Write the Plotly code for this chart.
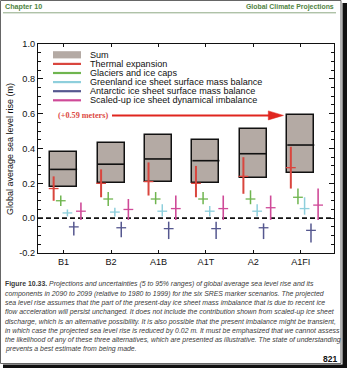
import plotly.graph_objects as go

# ---- data -------------------------------------------------------------
scenarios = ["B1", "B2", "A1B", "A1T", "A2", "A1FI"]

sum_low = [0.18, 0.20, 0.21, 0.20, 0.23, 0.26]
sum_mid = [0.28, 0.31, 0.34, 0.33, 0.37, 0.42]
sum_high = [0.38, 0.43, 0.48, 0.45, 0.51, 0.59]

thermal_low = [0.10, 0.12, 0.13, 0.12, 0.14, 0.17]
thermal_mid = [0.17, 0.20, 0.21, 0.20, 0.24, 0.29]
thermal_high = [0.24, 0.28, 0.32, 0.30, 0.35, 0.41]

glacier_low = [0.07, 0.07, 0.08, 0.08, 0.08, 0.08]
glacier_mid = [0.10, 0.11, 0.11, 0.11, 0.11, 0.12]
glacier_high = [0.13, 0.15, 0.15, 0.15, 0.16, 0.17]

greenland_low = [0.01, 0.01, 0.01, 0.01, 0.01, 0.02]
greenland_mid = [0.03, 0.035, 0.04, 0.04, 0.04, 0.055]
greenland_high = [0.05, 0.06, 0.08, 0.07, 0.08, 0.12]

antarctic_low = [-0.10, -0.11, -0.12, -0.12, -0.12, -0.14]
antarctic_mid = [-0.05, -0.055, -0.06, -0.06, -0.055, -0.07]
antarctic_high = [-0.02, -0.02, -0.02, -0.02, -0.03, -0.03]

dynamic_low = [-0.01, -0.01, -0.01, -0.01, -0.01, -0.01]
dynamic_mid = [0.04, 0.05, 0.055, 0.055, 0.06, 0.075]
dynamic_high = [0.09, 0.11, 0.13, 0.13, 0.13, 0.17]

y_tick_values = [-0.2, 0.0, 0.2, 0.4, 0.6, 0.8, 1.0]
y_tick_labels = ["-0.2", "0.0", "0.2", "0.4", "0.6", "0.8", "1.0"]

legend_labels = [
    "Sum",
    "Thermal expansion",
    "Glaciers and ice caps",
    "Greenland ice sheet surface mass balance",
    "Antarctic ice sheet surface mass balance",
    "Scaled-up ice sheet dynamical imbalance",
]

caption_lines = [
    "<b>Figure 10.33.</b> <i>Projections and uncertainties (5 to 95% ranges) of global average sea level rise and its</i>",
    "<i>components in 2090 to 2099 (relative to 1980 to 1999) for the six SRES marker scenarios. The projected</i>",
    "<i>sea level rise assumes that the part of the present-day ice sheet mass imbalance that is due to recent ice</i>",
    "<i>flow acceleration will persist unchanged. It does not include the contribution shown from scaled-up ice sheet</i>",
    "<i>discharge, which is an alternative possibility. It is also possible that the present imbalance might be transient,</i>",
    "<i>in which case the projected sea level rise is reduced by 0.02 m. It must be emphasized that we cannot assess</i>",
    "<i>the likelihood of any of these three alternatives, which are presented as illustrative. The state of understanding</i>",
    "<i>prevents a best estimate from being made.</i>",
]

# ---- styling ----------------------------------------------------------
W, H = 347, 368
PL, PR, PT, PB = 38, 334, 44, 253          # plot area in pixels
BOX_FILL = "#b4aaa4"
INK = "#111111"
SANS = "Liberation Sans, Arial, sans-serif"
SERIF = "Liberation Serif, Times New Roman, serif"

components = [
    ("Thermal expansion", thermal_low, thermal_mid, thermal_high, "#d9463e", -0.21, 2.0),
    ("Glaciers and ice caps", glacier_low, glacier_mid, glacier_high, "#6fb54f", -0.06, 1.5),
    ("Greenland", greenland_low, greenland_mid, greenland_high, "#8ecfdc", 0.08, 1.5),
    ("Antarctic", antarctic_low, antarctic_mid, antarctic_high, "#55578f", 0.215, 1.5),
    ("Dynamical", dynamic_low, dynamic_mid, dynamic_high, "#cf4a98", 0.365, 1.6),
]
legend_colors = [BOX_FILL] + [c[4] for c in components]


def px_x(px):
    return (px - PL) / (PR - PL)


def px_y(py):
    return (PB - py) / (PB - PT)


positions = list(range(1, len(scenarios) + 1))
BOX_W = 0.57

fig = go.Figure()

# sum ranges as boxes
fig.add_trace(go.Bar(
    x=positions,
    y=[h - l for l, h in zip(sum_low, sum_high)],
    base=sum_low,
    width=BOX_W,
    marker=dict(color=BOX_FILL, line=dict(color=INK, width=1.5)),
    hoverinfo="skip",
    showlegend=False,
))

# median line in each box
mx, my = [], []
for p, m in zip(positions, sum_mid):
    mx += [p - BOX_W / 2, p + BOX_W / 2, None]
    my += [m, m, None]
fig.add_trace(go.Scatter(x=mx, y=my, mode="lines",
                         line=dict(color=INK, width=1.6),
                         hoverinfo="skip", showlegend=False))

# component ranges with central estimate
for name, lo, mid, hi, color, off, lw in components:
    fig.add_trace(go.Scatter(
        x=[p + off for p in positions],
        y=mid,
        mode="markers",
        marker=dict(symbol="line-ew", size=7,
                    line=dict(color=color, width=1.3)),
        error_y=dict(type="data", symmetric=False,
                     array=[h - m for m, h in zip(mid, hi)],
                     arrayminus=[m - l for l, m in zip(lo, mid)],
                     width=0, thickness=lw, color=color),
        hoverinfo="skip",
        showlegend=False,
    ))

shapes = []
annotations = []

# zero line
shapes.append(dict(type="line", xref="paper", yref="y", x0=0, x1=1, y0=0, y1=0,
                   line=dict(color=INK, width=1.8, dash="5px,3px"), layer="below"))

# arrow to the top of the highest scenario range
top_val = sum_high[-1]
tip_x = positions[-1] - BOX_W / 2 - 0.08
head_len = 0.32
head_half = 0.026
start_x = 2.02
shapes.append(dict(type="line", xref="x", yref="y", x0=start_x, x1=tip_x - head_len + 0.02,
                   y0=top_val, y1=top_val, line=dict(color="#e0261f", width=2)))
shapes.append(dict(type="path", xref="x", yref="y",
                   path=f"M {tip_x - head_len},{top_val + head_half} L {tip_x},{top_val} "
                        f"L {tip_x - head_len},{top_val - head_half} Z",
                   fillcolor="#e0261f", line=dict(color="#e0261f", width=0.5)))
annotations.append(dict(x=start_x - 0.04, y=top_val, xref="x", yref="y",
                        xanchor="right", yanchor="middle", showarrow=False,
                        text=f"<b>(+{top_val:.2f} meters)</b>",
                        font=dict(family=SERIF, size=8.2, color="#dc4a44")))

# legend
row0 = 54.8
row_step = 9.1
for i, (label, color) in enumerate(zip(legend_labels, legend_colors)):
    yc = row0 + i * row_step
    if i == 0:
        shapes.append(dict(type="rect", xref="paper", yref="paper",
                           x0=px_x(53), x1=px_x(81), y0=px_y(yc + 3.6), y1=px_y(yc - 3.6),
                           fillcolor=color, line=dict(width=0)))
    else:
        shapes.append(dict(type="line", xref="paper", yref="paper",
                           x0=px_x(53), x1=px_x(81), y0=px_y(yc), y1=px_y(yc),
                           line=dict(color=color, width=2.2)))
    annotations.append(dict(x=px_x(87.5), y=px_y(yc), xref="paper", yref="paper",
                            xanchor="left", yanchor="middle", showarrow=False,
                            text=label, font=dict(family=SANS, size=9.1, color=INK)))

# y axis title
annotations.append(dict(x=px_x(10), y=px_y(149), xref="paper", yref="paper",
                        xanchor="center", yanchor="middle", showarrow=False,
                        textangle=-90, text="Global average sea level rise (m)",
                        font=dict(family=SANS, size=9, color=INK)))

# page header
GREEN = "#4f8443"
annotations.append(dict(x=px_x(3), y=px_y(6.5), xref="paper", yref="paper",
                        xanchor="left", yanchor="middle", showarrow=False,
                        text="<b>Chapter 10</b>", font=dict(family=SANS, size=7.2, color=GREEN)))
annotations.append(dict(x=px_x(336), y=px_y(6.5), xref="paper", yref="paper",
                        xanchor="right", yanchor="middle", showarrow=False,
                        text="<b>Global Climate Projections</b>",
                        font=dict(family=SANS, size=6.9, color=GREEN)))
shapes.append(dict(type="line", xref="paper", yref="paper",
                   x0=px_x(3), x1=px_x(336), y0=px_y(12.8), y1=px_y(12.8),
                   line=dict(color="#8ea884", width=1)))

# caption
cap_y0 = 284.3
cap_step = 9.3
for i, line in enumerate(caption_lines):
    annotations.append(dict(x=px_x(3), y=px_y(cap_y0 + i * cap_step), xref="paper", yref="paper",
                            xanchor="left", yanchor="middle", showarrow=False,
                            text=line, font=dict(family=SANS, size=6.9, color="#3a3a3a")))
annotations.append(dict(x=px_x(339), y=px_y(359), xref="paper", yref="paper",
                        xanchor="right", yanchor="middle", showarrow=False,
                        text="<b>821</b>", font=dict(family=SANS, size=8.5, color=INK)))

# page edge and drop shadow
shapes.append(dict(type="rect", xref="paper", yref="paper",
                   x0=px_x(0.5), x1=px_x(341), y0=px_y(0.5), y1=px_y(363.5),
                   line=dict(color="#666666", width=1), fillcolor="rgba(0,0,0,0)"))
shapes.append(dict(type="rect", xref="paper", yref="paper",
                   x0=px_x(342.5), x1=px_x(347), y0=px_y(3), y1=px_y(368),
                   line=dict(width=0), fillcolor="#111111"))
shapes.append(dict(type="rect", xref="paper", yref="paper",
                   x0=px_x(3), x1=px_x(347), y0=px_y(364.5), y1=px_y(368),
                   line=dict(width=0), fillcolor="#111111"))

fig.update_layout(
    width=W, height=H,
    margin=dict(l=PL, r=W - PR, t=PT, b=H - PB, pad=0),
    paper_bgcolor="white", plot_bgcolor="white",
    showlegend=False,
    shapes=shapes,
    annotations=annotations,
    bargap=0,
    xaxis=dict(
        range=[0.46, 6.70],
        tickmode="array", tickvals=positions, ticktext=scenarios,
        ticks="inside", ticklen=3, tickwidth=1, tickcolor=INK,
        showline=True, linecolor=INK, linewidth=1.2, mirror="ticks",
        showgrid=False, zeroline=False,
        tickfont=dict(family=SANS, size=9.1, color=INK),
        fixedrange=True,
    ),
    yaxis=dict(
        range=[-0.2, 1.0],
        tickmode="array", tickvals=y_tick_values, ticktext=y_tick_labels,
        ticks="inside", ticklen=5, tickwidth=1, tickcolor=INK,
        minor=dict(tickmode="linear", tick0=0, dtick=0.05, ticks="inside",
                   ticklen=3, tickwidth=1, tickcolor=INK),
        showline=True, linecolor=INK, linewidth=1.2, mirror="ticks",
        showgrid=False, zeroline=False,
        tickfont=dict(family=SANS, size=9.2, color=INK),
        fixedrange=True,
    ),
)

fig.write_html("out.html")
